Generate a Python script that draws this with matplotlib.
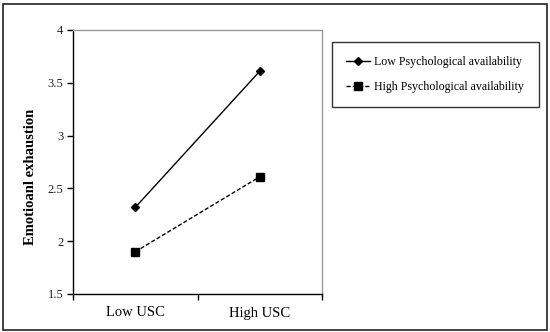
import matplotlib.pyplot as plt
from matplotlib.patches import Rectangle

categories = ['Low USC', 'High USC']
low_avail = [2.32, 3.61]
high_avail = [1.90, 2.61]
series_names = ['Low Psychological availability', 'High Psychological availability']

plt.rcParams['font.family'] = ['Liberation Serif', 'DejaVu Serif']

fig = plt.figure(figsize=(5.5, 3.32), dpi=100)
# outer frame
fig.patches.append(Rectangle((0.005, 0.006), 0.99, 0.982, transform=fig.transFigure,
                             fill=False, edgecolor='#222222', linewidth=1.2))

ax = fig.add_axes([73/550, 1 - 294/332, (322-73)/550, (294-30)/332])
x = [0.5, 1.5]
l1, = ax.plot(x, low_avail, color='black', linestyle='-', linewidth=1,
              marker='D', markersize=4.5, label=series_names[0])
l2, = ax.plot(x, high_avail, color='black', linestyle=(0, (3, 1.5)), linewidth=1,
              marker='s', markersize=6, label=series_names[1])

ax.set_xlim(0, 2)
ax.set_ylim(1.5, 4)
ax.set_yticks([1.5, 2, 2.5, 3, 3.5, 4])
ax.set_yticklabels(['1.5', '2', '2.5', '3', '3.5', '4'])
ax.set_xticks([0, 1, 2])
ax.set_xticklabels([])
ax.set_xticks(x, minor=True)
ax.set_xticklabels(categories, minor=True)
ax.tick_params(axis='x', which='minor', length=0, pad=9, labelsize=10.5)
ax.tick_params(axis='x', which='major', length=4, direction='out', width=1)
ax.tick_params(axis='y', length=4, direction='out', width=1, labelsize=9, pad=3,
               labelcolor='#222222')
for s in ['top', 'right']:
    ax.spines[s].set_color('#999999')
    ax.spines[s].set_linewidth(1)
for s in ['left', 'bottom']:
    ax.spines[s].set_color('black')
    ax.spines[s].set_linewidth(1)

fig.text(31/550, 1 - 177/332, 'Emotioanl exhaustion', rotation=90, ha='center', va='center',
         fontsize=10.5, fontweight='bold')

leg = fig.legend(handles=[l1, l2], loc='upper left',
                 bbox_to_anchor=(332/550, 1 - 42/332), fontsize=8.6,
                 frameon=True, fancybox=False, edgecolor='black', handlelength=2.0,
                 handletextpad=0.35, borderpad=1.2, labelspacing=1.05, borderaxespad=0)
leg.get_frame().set_linewidth(1)

fig.savefig('out.png', dpi=100)
